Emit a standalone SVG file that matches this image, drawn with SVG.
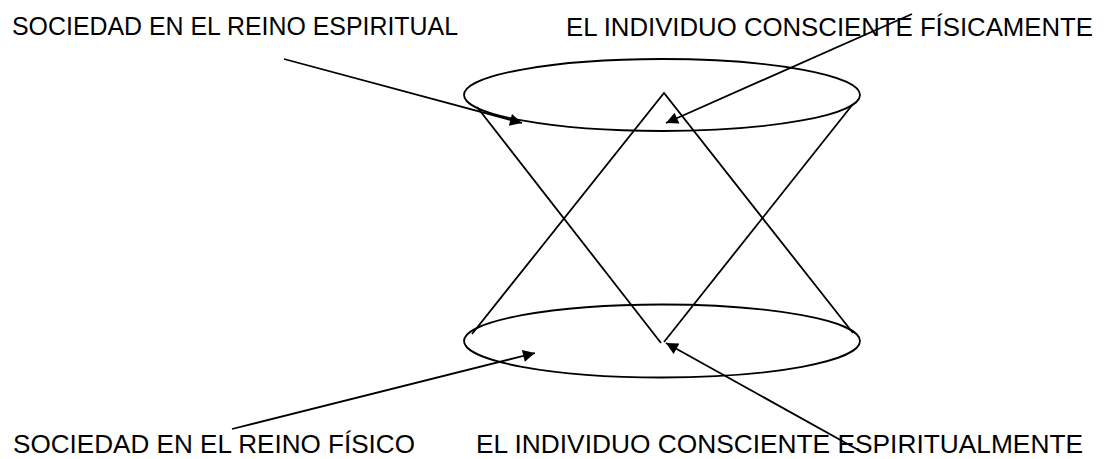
<svg xmlns="http://www.w3.org/2000/svg" width="1107" height="459" viewBox="0 0 1107 459">
<style>
.ln{fill:none;stroke:#000;stroke-width:1.8}
.t{font-family:"Liberation Sans",Arial,sans-serif;font-size:25px;fill:#000}
</style>
<defs>
<marker id="ah" viewBox="0 0 10 10" refX="10" refY="5" markerWidth="17" markerHeight="12" markerUnits="userSpaceOnUse" orient="auto">
<path d="M0,0 L10,5 L0,10 Z" fill="#000"/>
</marker>
</defs>
<rect width="1107" height="459" fill="#fff"/>
<g id="top-ellipse"><ellipse class="ln" cx="662" cy="95" rx="198" ry="36"/></g>
<g id="bottom-ellipse"><ellipse class="ln" cx="662" cy="341" rx="198" ry="36.5"/></g>
<g id="down-cone"><polyline class="ln" points="477,107 661,343"/><polyline class="ln" points="853,104 664,342"/></g>
<g id="up-cone"><polyline class="ln" points="472,334 664,93 853,333"/></g>
<g id="label-1"><text class="t" x="12" y="35" textLength="446" lengthAdjust="spacingAndGlyphs">SOCIEDAD EN EL REINO ESPIRITUAL</text></g>
<g id="label-2"><text class="t" x="566" y="36" textLength="527" lengthAdjust="spacingAndGlyphs">EL INDIVIDUO CONSCIENTE FÍSICAMENTE</text></g>
<g id="label-3"><text class="t" x="13" y="453" textLength="402" lengthAdjust="spacingAndGlyphs">SOCIEDAD EN EL REINO FÍSICO</text></g>
<g id="label-4"><text class="t" x="476" y="453" textLength="607" lengthAdjust="spacingAndGlyphs">EL INDIVIDUO CONSCIENTE ESPIRITUALMENTE</text></g>
<g id="connectors">
<line class="ln" x1="284" y1="59" x2="522" y2="123" marker-end="url(#ah)"/>
<line class="ln" x1="912" y1="14" x2="666" y2="123" marker-end="url(#ah)"/>
<line class="ln" x1="232" y1="429" x2="535" y2="353" marker-end="url(#ah)"/>
<line class="ln" x1="862" y1="452" x2="666" y2="343" marker-end="url(#ah)"/>
</g>
</svg>
